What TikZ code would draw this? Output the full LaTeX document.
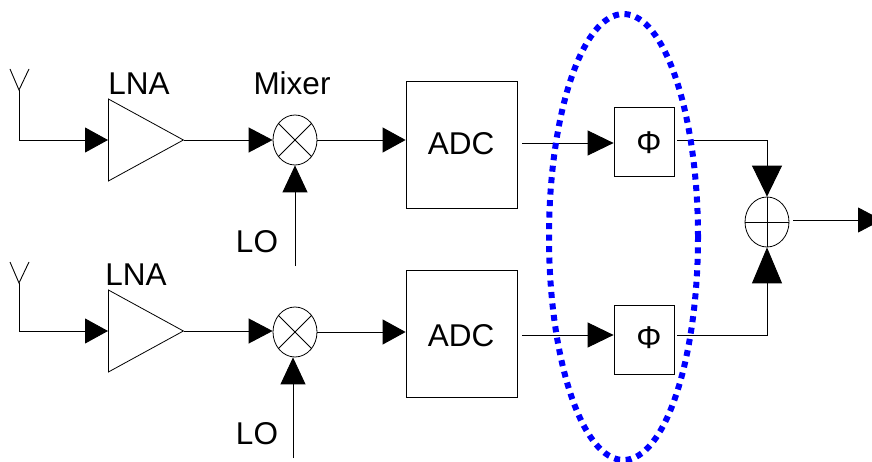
\documentclass[tikz,border=0pt]{standalone}
\usepackage{fontspec}
\setmainfont{Liberation Sans}
\usetikzlibrary{arrows.meta,shapes.geometric}

\tikzset{
    line/.style={line width=0.9pt},
    sig/.style={line, -{Triangle[length=#1,width=25pt]}},
    sig/.default=23pt,
    sigbig/.style={line, -{Triangle[length=#1,width=30pt]}},
    block/.style={draw, line width=0.8pt, rectangle, inner sep=0pt},
    amp/.style={draw, line width=0.8pt, isosceles triangle, isosceles triangle stretches, inner sep=0pt, minimum width=82pt, minimum height=75pt, anchor=lower side},
    circ/.style={draw, line width=0.8pt, ellipse, inner sep=0pt, minimum width=44pt, minimum height=50pt},
    lab/.style={font=\fontsize{31.5}{32}\selectfont, inner sep=0pt},
}

\begin{document}
\begin{tikzpicture}[x=1pt, y=-1pt]

    \useasboundingbox (0,0) rectangle (872,462);

    % Antennas
    \coordinate (antA) at (19,90);
    \coordinate (antAl) at (10,69);
    \coordinate (antAr) at (29,69);
    \coordinate (antB) at (19,283);
    \coordinate (antBl) at (10,262);
    \coordinate (antBr) at (29,262);
    \draw[line] (antAl) -- (antA) -- (antAr);
    \draw[line] (antBl) -- (antB) -- (antBr);

    % LNAs
    \node[amp] (lnaA) at (108,140) {};
    \node[amp] (lnaB) at (108,331) {};
    \node[lab] (lnaAlab) at (139,84) {LNA};
    \node[lab] (lnaBlab) at (136,275) {LNA};

    % Mixers
    \node[circ] (mixA) at (295,140) {};
    \node[circ] (mixB) at (295,332) {};
    \draw[line] (mixA.45) -- (mixA.225);
    \draw[line] (mixA.135) -- (mixA.315);
    \draw[line] (mixB.45) -- (mixB.225);
    \draw[line] (mixB.135) -- (mixB.315);
    \node[lab] (mixlab) at (292,83) {Mixer};

    % LO inputs
    \node[lab] (loA) at (257,242) {LO};
    \node[lab] (loB) at (257,434) {LO};
    \coordinate (loAin) at (295,266);
    \coordinate (loBin) at (293,458);

    % ADCs
    \node[block, minimum width=111pt, minimum height=127pt] (adcA) at (461.5,144.5) {};
    \node[block, minimum width=111pt, minimum height=127pt] (adcB) at (461.5,333.5) {};
    \node[lab] (adcAlab) at (461,144) {ADC};
    \node[lab] (adcBlab) at (461,336) {ADC};
    \coordinate (adcAout) at (522,143);
    \coordinate (adcBout) at (522,335);

    % Phase shifters
    \node[block, minimum width=60pt, minimum height=69pt] (phiA) at (644,141.5) {};
    \node[block, minimum width=60pt, minimum height=69pt] (phiB) at (644,339.5) {};
    \node[lab] (phiAlab) at (649,143) {Φ};
    \node[lab] (phiBlab) at (649,338) {Φ};
    \coordinate (phiAout) at (677,140);
    \coordinate (phiBout) at (677,335);

    % Combiner
    \node[circ] (sum) at (767,222) {};
    \draw[line] (sum.north) -- (sum.south);
    \draw[line] (sum.west) -- (sum.east);
    \coordinate (sumout) at (793,220);
    \coordinate (out) at (882,220);

    % Signal path, top
    \draw[sig] (antA) |- (lnaA.lower side);
    \draw[sig=24pt] (lnaA.apex) -- (lnaA.apex -| mixA.west);
    \draw[sig] (mixA.east) -- (adcA.west |- mixA.east);
    \draw[sig=27pt] (loAin) -- (loAin |- mixA.south);
    \draw[sig=26pt] (adcAout) -- (adcAout -| phiA.west);
    \draw[sigbig=31pt] (phiAout) -| (sum.north);

    % Signal path, bottom
    \draw[sig] (antB) |- (lnaB.lower side);
    \draw[sig=24pt] (lnaB.apex) -- (lnaB.apex -| mixB.west);
    \draw[sig] (mixB.east) -- (adcB.west |- mixB.east);
    \draw[sig=27pt] (loBin) -- (loBin |- mixB.south);
    \draw[sig=26pt] (adcBout) -- (adcBout -| phiB.west);
    \draw[sigbig=36pt] (phiBout) -| (sum.south);

    % Output
    \draw[line, -{Triangle[length=24pt,width=25pt]}] (sumout) -- (out);

    % Phase shifter group
    \node[draw=blue, line width=6pt, dash pattern=on 6pt off 5.5pt, ellipse, inner sep=0pt, minimum width=149pt, minimum height=446pt] (group) at (623.5,237) {};

\end{tikzpicture}
\end{document}
